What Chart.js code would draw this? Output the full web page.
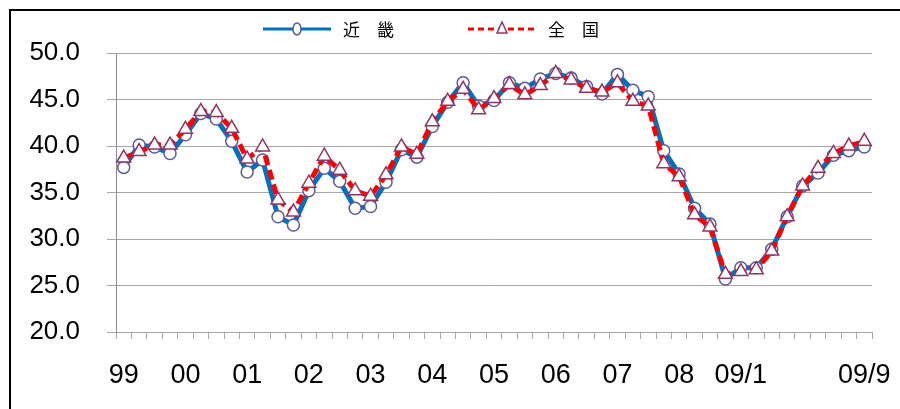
<!DOCTYPE html>
<html>
<head>
<meta charset="utf-8">
<script src="https://cdn.jsdelivr.net/npm/chart.js@4/dist/chart.umd.min.js"></script>
<style>
  html, body { margin: 0; padding: 0; background: #fff; overflow: hidden; }
  #wrap { position: relative; width: 900px; height: 409px; }
  #frame { position: absolute; left: 9px; top: 9px; width: 1000px; height: 1000px;
           border-left: 2px solid #000; border-top: 2px solid #000; pointer-events: none; }
</style>
</head>
<body>
<div id="wrap">
  <canvas id="chart" width="900" height="409"></canvas>
  <div id="frame"></div>
</div>
<script>
// quarterly 99-08, then monthly 2009/1 - 2009/9
var categories = [
  '99/1', '99/4', '99/7', '99/10', '00/1', '00/4', '00/7', '00/10',
  '01/1', '01/4', '01/7', '01/10', '02/1', '02/4', '02/7', '02/10',
  '03/1', '03/4', '03/7', '03/10', '04/1', '04/4', '04/7', '04/10',
  '05/1', '05/4', '05/7', '05/10', '06/1', '06/4', '06/7', '06/10',
  '07/1', '07/4', '07/7', '07/10', '08/1', '08/4', '08/7', '08/10',
  '09/1', '09/2', '09/3', '09/4', '09/5', '09/6', '09/7', '09/8', '09/9'
];
var tickLabels = [
  '99', '', '', '', '00', '', '', '', '01', '', '', '', '02', '', '', '',
  '03', '', '', '', '04', '', '', '', '05', '', '', '', '06', '', '', '',
  '07', '', '', '', '08', '', '', '', '09/1', '', '', '', '', '', '', '', '09/9'
];
var kinki = [
  37.7, 40.1, 39.9, 39.2, 41.2, 43.5, 42.9, 40.5, 37.2, 38.5, 32.4, 31.5,
  35.2, 37.6, 36.2, 33.3, 33.5, 36.1, 39.6, 38.8, 42.1, 44.7, 46.8, 44.3,
  44.9, 46.8, 46.2, 47.2, 47.8, 47.3, 46.4, 45.6, 47.7, 46.0, 45.3, 39.5,
  37.0, 33.3, 31.6, 25.7, 26.9, 26.9, 28.9, 32.4, 35.7, 37.1, 39.0, 39.5, 39.9
];
var zenkoku = [
  38.7, 39.4, 40.1, 40.1, 41.8, 43.7, 43.6, 41.9, 38.6, 39.9, 34.2, 32.9,
  36.0, 38.9, 37.4, 35.2, 34.6, 36.9, 39.9, 39.1, 42.6, 44.8, 46.1, 43.9,
  45.1, 46.6, 45.5, 46.5, 47.8, 47.1, 46.2, 45.8, 46.8, 44.8, 44.3, 38.1,
  36.7, 32.6, 31.3, 26.2, 26.5, 26.7, 28.7, 32.4, 35.7, 37.6, 39.2, 40.0, 40.5
];
var seriesNames = ['近　畿', '全　国'];
var yTicks = { min: 20, max: 50, step: 5 };

var numFont = 'Liberation Sans, Arial, sans-serif';
var cjkFont = '"Noto Sans CJK JP", sans-serif';

// legend: line + marker + text, drawn at the top
var legendPlugin = {
  id: 'lineLegend',
  afterDraw: function (chart) {
    var ctx = chart.ctx;
    var starts = [263, 468];
    var y = 29;
    ctx.save();
    chart.data.datasets.forEach(function (ds, i) {
      var x0 = starts[i];
      ctx.beginPath();
      ctx.setLineDash(ds.borderDash ? [6, 4] : []);
      ctx.lineWidth = 3;
      ctx.strokeStyle = ds.borderColor;
      ctx.moveTo(x0, y);
      ctx.lineTo(x0 + 68, y);
      ctx.stroke();
      ctx.setLineDash([]);
      ctx.fillStyle = '#fff';
      ctx.strokeStyle = ds.pointBorderColor;
      ctx.lineWidth = 1.5;
      ctx.beginPath();
      var cx = x0 + 34;
      if (ds.pointStyle === 'triangle') {
        ctx.moveTo(cx, y - 7);
        ctx.lineTo(cx + 5, y + 4);
        ctx.lineTo(cx - 5, y + 4);
        ctx.closePath();
      } else {
        ctx.ellipse(cx, y, 4, 6, 0, 0, Math.PI * 2);
      }
      ctx.fill();
      ctx.stroke();
      ctx.fillStyle = '#000';
      ctx.font = '17px ' + cjkFont;
      ctx.textBaseline = 'middle';
      ctx.fillText(ds.label, x0 + 80, y + 1);
    });
    ctx.restore();
  }
};

var ctx = document.getElementById('chart').getContext('2d');
var chart = new Chart(ctx, {
  type: 'line',
  data: {
    labels: categories,
    datasets: [
      {
        label: seriesNames[0],
        data: kinki,
        borderColor: '#0070C0',
        borderWidth: 5,
        pointStyle: 'circle',
        pointRadius: 6,
        pointBorderWidth: 1.5,
        pointBorderColor: '#5B5B9B',
        pointBackgroundColor: '#fff',
        tension: 0,
        order: 1
      },
      {
        label: seriesNames[1],
        data: zenkoku,
        borderColor: '#FF0000',
        borderWidth: 5,
        borderDash: [10, 5],
        pointStyle: 'triangle',
        pointRadius: 8,
        pointBorderWidth: 1.5,
        pointBorderColor: '#953464',
        pointBackgroundColor: '#fff',
        tension: 0,
        order: 0
      }
    ]
  },
  options: {
    responsive: false,
    animation: false,
    layout: { padding: { top: 53, right: 28, bottom: 0, left: 0 } },
    plugins: {
      legend: { display: false },
      tooltip: { enabled: false }
    },
    scales: {
      x: {
        type: 'category',
        offset: true,
        grid: { offset: true, drawOnChartArea: false, tickLength: 7, color: '#A6A6A6' },
        border: { color: '#A6A6A6' },
        ticks: {
          autoSkip: false,
          maxRotation: 0,
          padding: 20,
          color: '#000',
          font: { family: numFont, size: 27 },
          callback: function (v, i) { return tickLabels[i]; }
        },
        afterFit: function (s) { s.height = 77; s.paddingLeft = 0; s.paddingRight = 0; }
      },
      y: {
        min: yTicks.min,
        max: yTicks.max,
        grid: { tickLength: 9, color: '#A6A6A6' },
        border: { color: '#8C8C8C' },
        ticks: {
          stepSize: yTicks.step,
          padding: 27,
          color: '#000',
          font: { family: numFont, size: 26 },
          callback: function (v) { return v.toFixed(1); }
        },
        afterFit: function (s) { s.width = 116; s.paddingTop = 0; s.paddingBottom = 0; }
      }
    }
  },
  plugins: [legendPlugin]
});
</script>
</body>
</html>
